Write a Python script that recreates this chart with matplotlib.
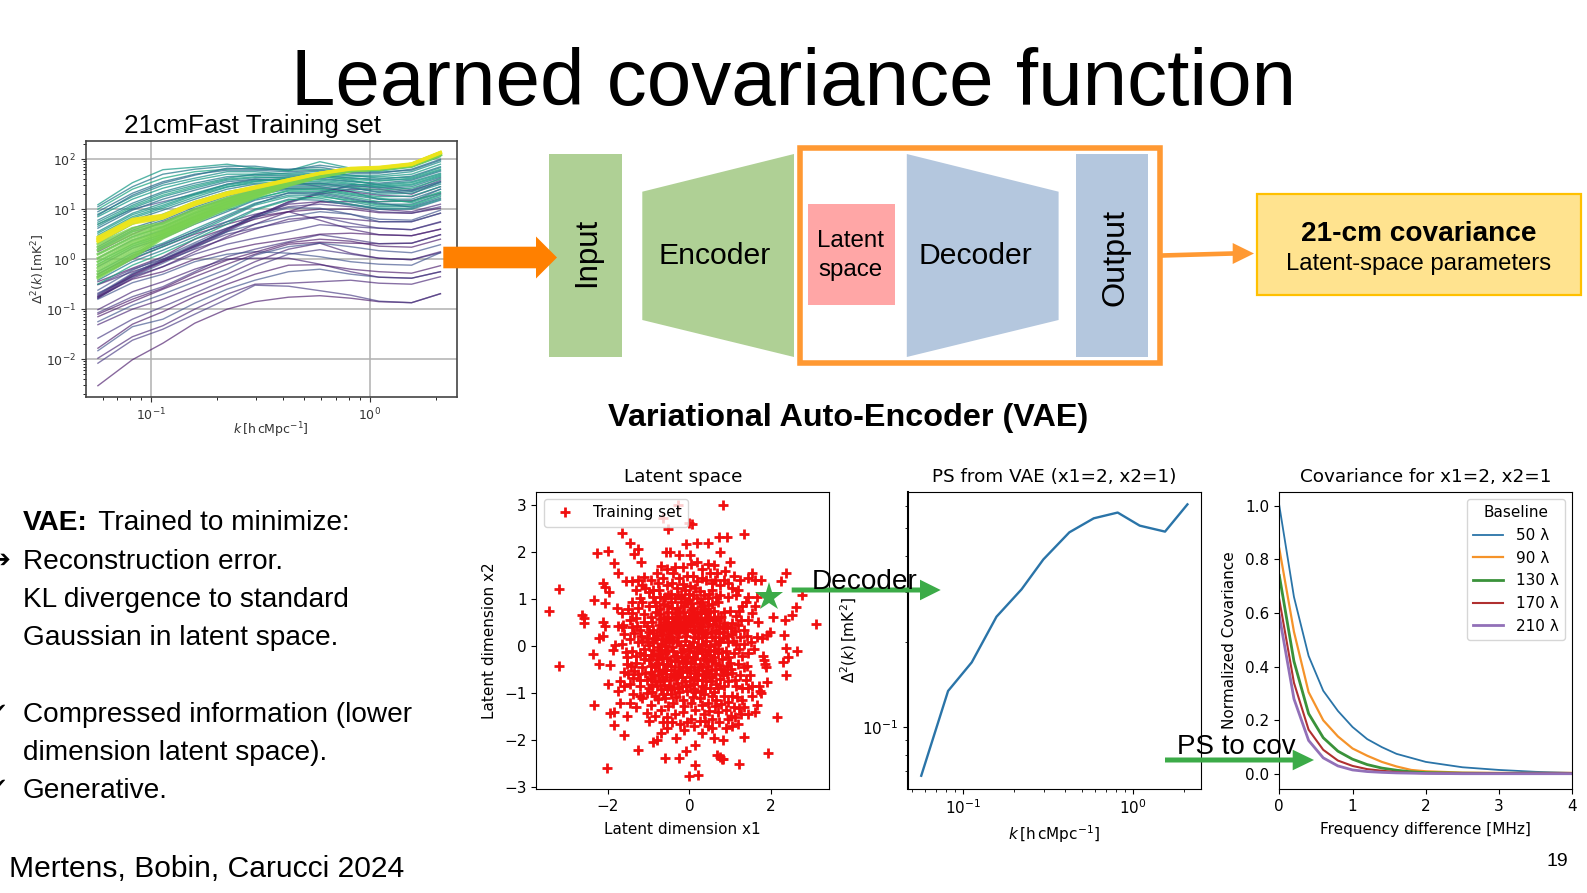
import numpy as np
import matplotlib
matplotlib.use('Agg')
import matplotlib.pyplot as plt
from matplotlib.patches import Polygon, Rectangle
from matplotlib.ticker import NullFormatter, LogLocator

W, H = 1587, 893
SLIDE_FONT = 'Liberation Sans'

# k grid shared by the power spectra
k_bins = [0.057, 0.082, 0.113, 0.158, 0.222, 0.298, 0.424, 0.59, 0.816, 1.10, 1.55, 2.10]

# training set curves, log10 of Delta^2(k)
purple_curves = [
    [-2.53, -2.01, -1.68, -1.28, -1.00, -.85, -.76, -.73, -.78, -.85, -.87, -.69],
    [-2.08, -1.62, -1.40, -1.10, -.80, -.52, -.54, -.63, -.72, -.84, -.87, -.69],
    [-1.98, -1.55, -1.33, -1.00, -.70, -.50, -.48, -.45, -.42, -.48, -.50, -.35],
    [-1.83, -1.35, -1.20, -.88, -.60, -.42, -.25, -.20, -.30, -.36, -.38, -.25],
    [-1.78, -1.30, -1.05, -.75, -.50, -.30, -.12, -.11, -.20, -.25, -.28, -.13],
    [-1.58, -1.20, -.95, -.68, -.40, -.15, .10, .19, .10, .02, -.01, .13],
    [-1.31, -1.00, -.80, -.55, -.30, -.05, .20, .32, .12, .02, -.01, .15],
    [-1.25, -.92, -.70, -.45, -.20, .08, .25, .32, .25, .17, .13, .29],
    [-1.15, -.85, -.60, -.35, -.10, .10, .30, .34, .32, .31, .32, .49],
    [-1.07, -.75, -.55, -.25, .05, .20, .35, .49, .40, .31, .32, .49],
    [-1.01, -.65, -.45, -.20, .00, .02, .02, -.10, -.25, -.36, -.38, -.25],
    [-.80, -.47, -.30, -.05, .10, .15, .12, .05, -.05, -.10, -.12, .13],
    [-.75, -.40, -.25, .00, .18, .30, .40, .50, .52, .49, .47, .60],
    [-.68, -.35, -.15, .10, .30, .42, .55, .69, .65, .62, .59, .74],
    [-.51, -.25, -.05, .20, .42, .60, .80, .85, .80, .75, .75, .92],
    [-.78, -.35, -.08, .22, .55, .82, 1.12, 1.32, 1.49, 1.49, 1.39, 1.62],
    [-.76, -.33, -.05, .25, .57, .85, 1.15, 1.30, 1.40, 1.40, 1.30, 1.55],
    [-.74, -.31, -.03, .27, .59, .87, 1.14, 1.34, 1.46, 1.44, 1.36, 1.58],
    [-.72, -.30, -.02, .28, .60, .88, 1.10, 1.15, 1.10, 1.00, .95, 1.10],
    [-.70, -.28, .00, .30, .55, .70, .85, .95, .90, .75, .75, .92],
    [-.45, -.18, .05, .40, .62, .80, .95, 1.15, 1.15, 1.15, 1.17, 1.32],
    [-.50, -.20, .00, .25, .50, .62, .75, .85, .72, .62, .59, .75],
    [-.78, -.38, -.15, .15, .45, .70, .95, .78, .60, .49, .47, .60],
    [.70, 1.00, 1.15, 1.30, 1.50, 1.60, 1.55, 1.45, 1.35, 1.20, 1.15, 1.40],
    [-.35, .00, .25, .50, .70, .85, .95, 1.00, 1.00, .93, .92, 1.02],
    [-.30, .05, .30, .55, .75, .90, 1.05, 1.10, 1.05, .95, .92, 1.05],
    [.15, .50, .75, 1.00, 1.20, 1.35, 1.42, 1.42, 1.35, 1.28, 1.25, 1.45],
    [-.62, -.22, .04, .33, .62, .85, 1.03, 1.02, .90, .80, .78, .98],
    [-1.10, -.80, -.58, -.28, -.02, .14, .33, .40, .36, .26, .24, .40],
]

teal_curves = [
    [1.09, 1.53, 1.79, 1.84, 1.90, 1.82, 1.77, 1.95, 1.82, 1.82, 1.92, 2.15],
    [1.05, 1.45, 1.70, 1.80, 1.86, 1.86, 1.78, 1.88, 1.80, 1.78, 1.88, 2.10],
    [1.00, 1.40, 1.62, 1.75, 1.80, 1.82, 1.78, 1.80, 1.76, 1.76, 1.84, 2.05],
    [.95, 1.32, 1.55, 1.70, 1.78, 1.78, 1.75, 1.78, 1.72, 1.72, 1.80, 2.00],
    [.90, 1.25, 1.48, 1.62, 1.75, 1.75, 1.70, 1.72, 1.68, 1.68, 1.75, 1.95],
    [.85, 1.20, 1.42, 1.58, 1.70, 1.70, 1.68, 1.70, 1.66, 1.65, 1.70, 1.90],
    [.78, 1.12, 1.35, 1.52, 1.65, 1.68, 1.66, 1.68, 1.62, 1.60, 1.66, 1.85],
    [.70, 1.05, 1.28, 1.45, 1.60, 1.65, 1.62, 1.65, 1.60, 1.56, 1.62, 1.80],
    [.62, .98, 1.20, 1.38, 1.55, 1.60, 1.60, 1.62, 1.56, 1.52, 1.58, 1.76],
    [.55, .92, 1.12, 1.32, 1.50, 1.58, 1.58, 1.60, 1.55, 1.50, 1.55, 1.72],
    [.48, .85, 1.05, 1.28, 1.45, 1.52, 1.55, 1.55, 1.50, 1.46, 1.50, 1.68],
    [.40, .78, .98, 1.20, 1.40, 1.50, 1.52, 1.52, 1.48, 1.42, 1.45, 1.64],
    [.32, .70, .90, 1.15, 1.35, 1.45, 1.50, 1.50, 1.45, 1.38, 1.42, 1.60],
    [.25, .62, .82, 1.08, 1.30, 1.42, 1.48, 1.48, 1.42, 1.35, 1.38, 1.55],
    [.18, .55, .72, 1.00, 1.22, 1.38, 1.45, 1.45, 1.38, 1.30, 1.32, 1.50],
    [.10, .45, .65, .92, 1.15, 1.32, 1.42, 1.42, 1.32, 1.25, 1.26, 1.45],
    [.02, .38, .58, .85, 1.10, 1.28, 1.40, 1.38, 1.28, 1.20, 1.20, 1.40],
    [-.05, .30, .50, .78, 1.02, 1.22, 1.36, 1.35, 1.25, 1.15, 1.16, 1.35],
    [-.15, .22, .42, .70, .95, 1.18, 1.32, 1.30, 1.20, 1.10, 1.10, 1.30],
    [-.25, .12, .32, .60, .88, 1.12, 1.28, 1.28, 1.15, 1.05, 1.06, 1.25],
    [-.35, .02, .25, .52, .82, 1.08, 1.25, 1.22, 1.10, 1.02, 1.02, 1.20],
    [-.42, -.05, .18, .45, .75, 1.00, 1.20, 1.18, 1.08, 1.00, 1.00, 1.18],
    [-.50, -.12, .12, .40, .70, .98, 1.18, 1.25, 1.18, 1.08, 1.08, 1.28],
    [.88, 1.28, 1.52, 1.68, 1.82, 1.80, 1.80, 1.84, 1.74, 1.74, 1.78, 1.98],
    [.66, 1.02, 1.25, 1.42, 1.58, 1.63, 1.64, 1.68, 1.63, 1.58, 1.60, 1.78],
    [.44, .82, 1.02, 1.24, 1.44, 1.55, 1.60, 1.58, 1.52, 1.44, 1.48, 1.66],
    [.21, .58, .78, 1.04, 1.26, 1.40, 1.50, 1.52, 1.44, 1.33, 1.35, 1.53],
    [-.10, .26, .46, .74, .98, 1.20, 1.38, 1.40, 1.30, 1.22, 1.13, 1.33],
    [-.30, .08, .28, .56, .85, 1.10, 1.33, 1.33, 1.22, 1.12, 1.04, 1.22],
    [.74, 1.08, 1.32, 1.48, 1.62, 1.70, 1.72, 1.76, 1.68, 1.62, 1.64, 1.83],
    [.52, .89, 1.08, 1.30, 1.48, 1.56, 1.62, 1.66, 1.58, 1.48, 1.53, 1.70],
]

green_curves = [
    [.30, .62, .72, 1.00, 1.22, 1.38, 1.55, 1.68, 1.78, 1.81, 1.88, 2.10],
    [.24, .56, .68, .96, 1.20, 1.36, 1.54, 1.67, 1.77, 1.80, 1.87, 2.09],
    [.18, .50, .64, .93, 1.18, 1.35, 1.53, 1.67, 1.78, 1.81, 1.87, 2.10],
    [.10, .44, .62, .90, 1.16, 1.34, 1.52, 1.67, 1.77, 1.80, 1.87, 2.09],
    [.02, .38, .58, .87, 1.14, 1.33, 1.52, 1.66, 1.77, 1.81, 1.88, 2.10],
    [-.05, .33, .56, .85, 1.12, 1.32, 1.51, 1.66, 1.77, 1.80, 1.87, 2.09],
    [-.12, .28, .54, .83, 1.10, 1.30, 1.50, 1.65, 1.77, 1.81, 1.87, 2.09],
    [-.18, .22, .52, .81, 1.09, 1.29, 1.50, 1.66, 1.77, 1.80, 1.87, 2.09],
    [-.24, .16, .49, .79, 1.07, 1.28, 1.49, 1.65, 1.77, 1.81, 1.87, 2.09],
    [-.30, .10, .47, .77, 1.06, 1.26, 1.49, 1.65, 1.77, 1.80, 1.87, 2.09],
    [-.35, .05, .45, .75, 1.05, 1.25, 1.49, 1.65, 1.77, 1.81, 1.87, 2.09],
    [-.38, .02, .42, .72, 1.02, 1.23, 1.47, 1.64, 1.76, 1.80, 1.86, 2.08],
]

yellow_curves = [
    [.35, .72, .82, 1.09, 1.29, 1.42, 1.57, 1.71, 1.80, 1.82, 1.89, 2.12],
    [.38, .75, .84, 1.11, 1.30, 1.43, 1.58, 1.72, 1.81, 1.83, 1.90, 2.13],
    [.41, .78, .86, 1.13, 1.32, 1.44, 1.59, 1.72, 1.81, 1.83, 1.90, 2.13],
    [.44, .80, .88, 1.14, 1.33, 1.45, 1.59, 1.72, 1.82, 1.84, 1.91, 2.14],
]

# latent space, training set positions
training_pts = [
    (-3.44, .74), (-3.19, 1.21), (-3.21, -.43), (-2.64, .67), (-2.58, .6), (-2.58, .5), (-2.34, .99), (-2.36, -.16),
    (-2.21, -.38), (-2.34, -1.25), (-2.27, 1.99), (-2.0, 2.03), (-2.01, -2.6), (-1.64, 2.42), (-1.46, 2.19), (-1.25, 2.06),
    (-1.36, 1.96), (-1.19, 1.8), (-1.84, 1.77), (-1.74, 1.55), (-2.13, 1.34), (-2.07, 1.27), (-1.96, 1.16), (-2.07, .91),
    (-1.77, .82), (-1.64, .7), (-2.11, .52), (-2.07, .42), (-2.21, .17), (-2.11, .21), (-1.95, -.4), (-1.99, -.81),
    (-1.82, .03), (-1.87, -.08), (-1.54, -.22), (-1.52, -.38), (-1.95, -1.43), (-1.85, -1.39), (-1.85, -1.67), (-1.6, -1.89),
    (-1.54, -1.48), (-1.27, -2.22), (-.9, -2.03), (-.6, -2.38), (-.25, -2.37), (-.08, -2.23), (.14, -2.1), (.14, -2.52),
    (0, -2.76), (.22, -2.74), (.67, -2.31), (.83, -2.4), (1.23, -2.51), (1.94, -2.28), (2.16, -1.51), (1.33, -1.94),
    (1.73, -.96), (1.9, -.77), (2.37, -.61), (2.31, -.33), (2.43, -.22), (2.65, -.11), (2.37, -.03), (2.32, .24),
    (3.11, .48), (2.35, .55), (2.51, .67), (2.63, .83), (2.76, 1.09), (2.25, 1.38), (2.37, 1.55), (2.06, .62),
    (1.98, .31), (1.9, .24), (1.33, 2.38), (.92, 2.33), (.74, 2.32), (.82, 3.0), (.06, 2.6), (-.02, 2.62),
    (-.27, 3.0), (-.52, 2.5), (-.65, 2.72), (-.07, 2.17), (.2, 2.19), (.47, 2.2), (.75, 2.01), (-.56, 2.01),
    (-.47, 2.01), (-.25, 1.94), (.02, 1.94), (1.0, 1.8), (.8, -2.4), (.75, -2.35), (1.84, -.3), (1.87, -.45),
    (1.8, -.2), (1.85, -.38), (1.65, .2), (1.78, .18), (1.62, .85), (1.65, 1.05), (1.45, 1.45), (1.55, 1.55),
    (1.6, 1.42), (1.75, 1.42), (1.45, 1.05), (1.4, .95), (1.3, .85), (1.55, .7), (1.68, .52), (1.45, .55),
    (1.7, -.85), (1.55, -.85), (1.45, -.9), (1.75, -1.0), (1.45, -1.45), (1.65, -1.25), (1.6, -1.4), (1.2, -1.65),
    (1.05, -1.7), (.9, -1.75), (.82, -2.0), (.6, -1.95), (.45, -1.7), (.3, -1.85), (.25, -1.6), (-.12, -1.78),
    (-.32, -1.95), (-.7, -1.85), (-.8, -2.0), (-.55, -1.75), (-1.0, -1.6), (-1.3, -1.3), (-1.45, -1.2), (-1.7, -1.2),
    (-1.75, -.95), (-1.7, -.75), (-1.6, -.85), (-1.45, -.8), (-1.5, -.6), (-1.25, -.6), (-1.2, -.85), (-1.15, -1.1),
    (-.95, -1.25), (-.85, -1.05), (-.7, -1.35), (-.55, -1.5), (-.35, -1.45), (-.15, -1.4), (.05, -1.55), (.15, -1.35),
    (.35, -1.45), (.55, -1.55), (.7, -1.4), (.9, -1.35), (1.1, -1.3), (1.3, -1.15), (1.3, -.9), (1.15, -.85),
    (1.05, -1.05), (.85, -1.05), (.65, -1.15), (.45, -1.2), (.25, -1.1), (.05, -1.2), (-.15, -1.15), (-.4, -1.2),
    (-.6, -1.1), (-.8, -.85), (-1.0, -.9), (-1.15, -.45), (-1.3, -.35), (-1.4, -.1), (-1.25, .1), (-1.45, .15),
    (-1.6, .25), (-1.4, .4), (-1.2, .35), (-1.3, .6), (-1.45, .55), (-1.75, .42), (-1.65, .4), (-1.4, .95),
    (-1.3, 1.2), (-1.4, 1.38), (-1.55, 1.38), (-1.1, 1.48), (-.95, 1.4), (-.8, 1.55), (-.7, 1.7), (-.55, 1.65),
    (-.4, 1.55), (-.25, 1.45), (-.05, 1.5), (.1, 1.5), (.3, 1.65), (.45, 1.75), (.6, 1.72), (.5, 1.55),
    (.75, 1.3), (.85, 1.4), (.95, 1.35), (1.1, 1.5), (1.2, 1.2), (1.15, 1.1), (.95, 1.05), (.7, .95),
    (.55, 1.2), (.35, 1.1), (.15, 1.25), (-.1, 1.2), (-.3, 1.25), (-.55, 1.3), (-.75, 1.2), (-1.0, 1.15),
    (-1.15, .95), (-1.0, .85), (-.85, .95), (-.65, .9), (-.45, .95), (-.2, .95), (.0, .98), (.25, .92),
    (.45, .88), (.6, .75), (.85, .72), (1.0, .75), (1.15, .65), (1.2, .45), (1.05, .5), (.85, .5),
    (.65, .55), (.45, .62), (.25, .7), (.05, .78), (-.15, .72), (-.35, .7), (-.55, .72), (-.75, .68),
    (-.95, .62), (-1.1, .68), (-1.05, .42), (-.9, .35), (-.75, .45), (-.55, .48), (-.35, .5), (-.15, .52),
    (.05, .55), (.25, .48), (.45, .42), (.65, .35), (.85, .3), (1.05, .25), (1.25, .2), (1.35, .05),
    (1.15, .05), (.95, .1), (.75, .12), (.55, .2), (.35, .25), (.15, .3), (-.05, .32), (-.25, .3),
    (-.45, .28), (-.65, .25), (-.85, .15), (-1.05, .18), (-1.1, -.05), (-.9, -.08), (-.7, .05), (-.5, .08),
    (-.3, .1), (-.1, .12), (.1, .1), (.3, .05), (.5, .0), (.7, -.05), (.9, -.1), (1.1, -.15),
    (1.3, -.2), (1.45, -.15), (1.2, -.38), (1.0, -.35), (.8, -.28), (.6, -.22), (.4, -.18), (.2, -.15),
    (.0, -.1), (-.2, -.12), (-.4, -.1), (-.6, -.15), (-.8, -.28), (-1.0, -.3), (-.95, -.55), (-.75, -.5),
    (-.55, -.38), (-.35, -.32), (-.15, -.35), (.05, -.35), (.25, -.38), (.45, -.42), (.65, -.48), (.85, -.52),
    (1.05, -.58), (1.25, -.62), (1.35, -.45), (.95, -.75), (.75, -.7), (.55, -.65), (.35, -.6), (.15, -.58),
    (-.05, -.55), (-.25, -.55), (-.45, -.6), (-.65, -.72), (-.85, -.75), (-1.05, -.72), (-.7, -.92), (-.5, -.85),
    (-.3, -.78), (-.1, -.75), (.1, -.8), (.3, -.85), (.5, -.88), (.7, -.9), (.55, -1.05), (.35, -1.02),
    (.15, -.98), (-.05, -.95), (-.25, -.98), (-.45, -1.02), (.4, 1.4), (.2, 1.38), (-.45, 1.12), (-.2, 1.1),
    (.75, 1.1), (-.65, 1.45), (-.9, 1.2), (.62, .05), (.28, .85), (-.82, -.38), (.42, -.75), (-.62, -.5),
    (-.18, -.22), (.28, .4), (.92, -.42), (-.42, .62), (.12, -.45), (-.32, -.65), (.72, .42), (-.72, .32),
]

# thick middle of the cloud
training_pts_core = [
    (-.98, .02), (-.88, .28), (-.78, -.02), (-.68, .15), (-.58, .38), (-.48, .18), (-.38, .4), (-.28, .2),
    (-.18, .42), (-.08, .22), (.02, .44), (.12, .2), (.22, .18), (.32, .35), (.42, .12), (.52, .3),
    (-.95, -.18), (-.85, -.45), (-.75, -.2), (-.65, -.38), (-.55, -.25), (-.45, -.42), (-.35, -.2), (-.25, -.44),
    (-.15, -.05), (-.05, -.22), (.05, -.02), (.15, -.28), (.25, -.05), (.35, -.25), (.45, -.08), (.55, -.32),
    (-.92, .52), (-.82, .72), (-.72, .58), (-.62, .62), (-.52, .6), (-.42, .82), (-.32, .62), (-.22, .62),
    (-.12, .85), (-.02, .65), (.08, .66), (.18, .58), (.28, .6), (.38, .75), (.48, .55), (.58, .48),
    (-.95, -.42), (-.88, -.62), (-.78, -.62), (-.68, -.58), (-.58, -.65), (-.48, -.72), (-.38, -.5), (-.28, -.62),
    (-.18, -.65), (-.08, -.45), (.02, -.65), (.12, -.7), (.22, -.5), (.32, -.72), (.42, -.55), (.52, -.75),
    (.62, -.35), (.72, -.4), (.82, -.62), (.92, -.6), (1.02, -.48), (1.12, -.72), (.65, -.8), (.85, -.85),
    (.62, .2), (.72, .28), (.82, .18), (.92, .22), (1.02, .38), (1.12, .32), (.78, .62), (.92, .42),
    (-1.18, .22), (-1.28, .42), (-1.35, .28), (-1.12, .52), (-1.22, -.15), (-1.32, -.2), (-1.12, -.28), (-1.2, -.72),
    (-1.05, -1.0), (-.92, -.98), (-.78, -1.12), (-.65, -1.02), (-.52, -1.28), (-.32, -1.08), (-.12, -1.28), (.1, -1.08),
    (.32, -1.25), (.48, -1.38), (.62, -1.28), (.78, -1.22), (.95, -1.18), (1.18, -1.08), (1.22, -1.32), (1.02, -1.48),
    (-1.2, 1.02), (-1.08, 1.25), (-.9, 1.05), (-.78, 1.35), (-.6, 1.05), (-.42, 1.35), (-.12, 1.02), (.08, 1.08),
    (.25, 1.18), (.45, 1.02), (.62, 1.42), (.65, 1.05), (-.15, 1.32), (.02, 1.28), (.3, 1.45), (.55, 1.35),
    (-.35, 1.68), (-.15, 1.68), (.05, 1.75), (.2, 1.8), (.68, 1.55), (.88, 1.6), (1.05, 1.25), (1.25, 1.4),
    (-.7, -.08), (-.6, .0), (-.42, -.02), (-.22, .02), (-.02, .02), (.18, -.02), (.38, .02), (.6, -.1),
    (-.5, .22), (-.32, .32), (-.12, .35), (.08, .35), (.22, .3), (.4, .28), (-.58, .12), (-.4, .14),
    (-.55, -.08), (-.3, -.22), (-.1, -.25), (.1, -.22), (.3, -.12), (.5, -.18), (-.75, -.15), (.7, -.15),
    (-.62, .42), (-.42, .42), (-.25, .45), (-.05, .45), (.12, .42), (.32, .52), (-.52, .85), (-.3, .82),
    (-.1, .62), (.1, .82), (.35, .8), (.55, .9), (-.28, -.88), (-.08, -.85), (.12, -.92), (.28, -.95),
    (-.45, -.92), (-.62, -.82), (-1.35, -.52), (-1.42, -.42), (-1.55, -.12), (-1.65, .05), (-1.6, -.55), (-1.38, -.68),
    (-1.5, .8), (-1.62, .45), (-1.25, .82), (-1.4, .7), (-1.15, 1.3), (-1.25, 1.42), (1.28, .55), (1.35, .35),
    (1.22, .75), (1.42, .22), (1.52, .08), (1.58, -.05), (1.42, -.42), (1.5, -.62), (1.38, -.72), (1.55, -1.05),
    (1.35, -1.3), (1.28, -1.45), (1.12, -1.5), (.95, -1.55), (.72, -1.62), (.55, -1.75), (.38, -1.6), (.12, -1.7),
    (-.05, -1.62), (-.22, -1.65), (-.42, -1.62), (-.65, -1.62), (-.85, -1.48), (-1.05, -1.42), (-1.22, -1.05), (-1.38, -1.02),
    (-.9, .08), (-.8, .22), (-.7, .38), (-.6, .52), (-.5, .34), (-.4, .52), (-.3, .58), (-.2, .36),
    (-.1, .5), (.0, .6), (.1, .52), (.2, .72), (.3, .2), (.4, .55), (.5, .72), (.6, .6),
    (-.88, -.18), (-.78, -.36), (-.68, -.25), (-.58, -.5), (-.48, -.3), (-.38, -.62), (-.28, -.32), (-.18, -.5),
    (-.08, -.32), (.02, -.5), (.12, -.12), (.22, -.62), (.32, -.45), (.42, -.3), (.52, -.5), (.62, -.6),
    (-.82, .85), (-.72, .8), (-.62, 1.02), (-.52, 1.1), (-.35, 1.02), (-.25, .75), (-.05, .92), (.05, .92),
    (.18, 1.02), (.32, .95), (.42, .7), (.48, 1.12), (.12, .62), (-.02, 1.12), (-.28, 1.1), (-.72, 1.05),
    (-.72, -.75), (-.55, -.92), (-.38, -.88), (-.18, -.85), (.02, -.82), (.2, -.72), (.38, -.88), (.6, -.98),
    (.48, -.65), (-.92, -.82), (-.95, -.68), (-1.08, -.58), (-1.08, -.18), (-1.02, .08), (-.98, .3), (-1.15, .12),
    (.72, .08), (.8, -.12), (.82, .38), (.7, .62), (.95, -.22), (.78, -.48), (1.08, .12), (1.22, -.05),
]

# power spectrum decoded at x1=2, x2=1
vae_ps = [0.0674, 0.134, 0.169, 0.2446, 0.3055, 0.389, 0.4847, 0.543, 0.569, 0.5117, 0.4875, 0.608]

# covariance curves per baseline
freq_diff = [0, 0.2, 0.4, 0.6, 0.8, 1.0, 1.2, 1.4, 1.6, 1.8, 2.0, 2.5, 3.0, 3.5, 4.0]
baseline_labels = ['50 λ', '90 λ', '130 λ', '170 λ', '210 λ']
cov_50 = [1.0, .66, .44, .31, .235, .175, .13, .10, .075, .06, .045, .025, .015, .008, .004]
cov_90 = [.84, .53, .305, .20, .14, .095, .068, .045, .028, .015, .01, .005, .004, .004, .004]
cov_130 = [.74, .42, .225, .135, .085, .055, .035, .022, .014, .008, .005, .003, .002, .002, .002]
cov_170 = [.65, .34, .165, .09, .05, .03, .018, .012, .007, .004, .003, .002, .002, .002, .002]
cov_210 = [.59, .28, .125, .06, .03, .015, .009, .006, .004, .003, .002, .001, .001, .001, .001]

fig = plt.figure(figsize=(W / 100, H / 100), dpi=100)


def px_axes(left, top, right, bottom):
    return fig.add_axes([left / W, 1 - bottom / H, (right - left) / W, (bottom - top) / H])


# training set panel
ax1 = px_axes(85.7, 140.7, 457, 396.7)
purple_shades = [0.06, 0.16, 0.1, 0.24]
for i, curve in enumerate(purple_curves):
    ax1.plot(k_bins, 10 ** np.array(curve), color=plt.cm.viridis(purple_shades[i % 4]), alpha=0.65, lw=1.0)
teal_shades = [0.55, 0.42, 0.6, 0.38, 0.5]
for i, curve in enumerate(teal_curves):
    ax1.plot(k_bins, 10 ** np.array(curve), color=plt.cm.viridis(teal_shades[i % 5]), alpha=0.75, lw=1.0)
for curve in green_curves:
    ax1.plot(k_bins, 10 ** np.array(curve), color=plt.cm.viridis(0.8), alpha=0.8, lw=2.0)
for curve in yellow_curves:
    ax1.plot(k_bins, 10 ** np.array(curve), color=plt.cm.viridis(0.97), alpha=0.9, lw=2.2)
ax1.set_xscale('log')
ax1.set_yscale('log')
ax1.set_xlim(10 ** -1.3, 10 ** 0.398)
ax1.set_ylim(10 ** -2.75, 10 ** 2.37)
ax1.grid(True, which='major', color='#b0b0b0', lw=1.1)
ax1.yaxis.set_major_locator(LogLocator(base=10, numticks=10))
ax1.yaxis.set_minor_locator(LogLocator(base=10, subs=np.arange(2, 10), numticks=10))
ax1.yaxis.set_minor_formatter(NullFormatter())
ax1.xaxis.set_minor_formatter(NullFormatter())
ax1.tick_params(labelsize=9, colors='#333333')
ax1.set_xlabel(r'$k\,[\mathrm{h\,cMpc^{-1}}]$', fontsize=9, color='#333333', labelpad=-2)
ax1.set_ylabel(r'$\Delta^2(k)\,[\mathrm{mK^2}]$', fontsize=9, color='#333333', labelpad=-1)
for spine in ax1.spines.values():
    spine.set_color('#444444')
    spine.set_linewidth(1.2)

# latent space panel
ax2 = px_axes(536.3, 491.7, 829.3, 789)
pts = np.array(training_pts + training_pts_core)
ax2.plot(pts[:, 0], pts[:, 1], '+', color='#f01010', ms=7, mew=2.0, label='Training set', zorder=2)
ax2.plot([1.95], [1.05], '*', color='#3CAB48', ms=21, mew=0, zorder=3)
ax2.set_xlim(-3.755, 3.435)
ax2.set_ylim(-3.04, 3.29)
ax2.set_xticks([-2, 0, 2])
ax2.set_yticks([-3, -2, -1, 0, 1, 2, 3])
ax2.tick_params(labelsize=11)
ax2.set_xlabel('Latent dimension x1', fontsize=11, labelpad=6)
ax2.set_ylabel('Latent dimension x2', fontsize=11, labelpad=5)
ax2.set_title('Latent space', fontsize=13.2, pad=7)
ax2.legend(loc='upper left', fontsize=11, handlelength=2.0, handletextpad=0.8)

# decoded spectrum panel
ax3 = px_axes(908, 491.7, 1201, 789)
ax3.plot(k_bins, vae_ps, color='#2a74a8', lw=1.7)
ax3.set_xscale('log')
ax3.set_yscale('log')
ax3.set_xlim(10 ** -1.322, 10 ** 0.402)
ax3.set_ylim(10 ** -1.218, 10 ** -0.1715)
ax3.yaxis.set_minor_formatter(NullFormatter())
ax3.xaxis.set_minor_formatter(NullFormatter())
ax3.tick_params(labelsize=11)
ax3.set_xlabel(r'$k\,[\mathrm{h\,cMpc^{-1}}]$', fontsize=11)
ax3.set_ylabel(r'$\Delta^2(k)\,[\mathrm{mK^2}]$', fontsize=11, labelpad=2)
ax3.set_title('PS from VAE (x1=2, x2=1)', fontsize=13.2, pad=7)
ax3.spines['left'].set_linewidth(1.5)

# covariance panel
ax4 = px_axes(1279.3, 491.7, 1572.3, 789)
cov_curves = [cov_50, cov_90, cov_130, cov_170, cov_210]
cov_colors = ['#2a74a8', '#f5932a', '#3a923a', '#b03030', '#9270b8']
cov_widths = [1.3, 1.6, 2.0, 1.5, 2.0]
for curve, label, color, width in zip(cov_curves, baseline_labels, cov_colors, cov_widths):
    ax4.plot(freq_diff, curve, color=color, lw=width, label=label)
ax4.set_xlim(0, 4)
ax4.set_ylim(-0.056, 1.052)
ax4.set_xticks([0, 1, 2, 3, 4])
ax4.set_yticks([0, 0.2, 0.4, 0.6, 0.8, 1.0])
ax4.tick_params(labelsize=11)
ax4.set_xlabel('Frequency difference [MHz]', fontsize=11, labelpad=6)
ax4.set_ylabel('Normalized Covariance', fontsize=11, labelpad=6)
ax4.set_title('Covariance for x1=2, x2=1', fontsize=13.2, pad=7)
ax4.legend(title='Baseline', loc='upper right', fontsize=11, title_fontsize=11, labelspacing=0.5)

# slide layer in pixel coordinates, on top of the panels
slide = fig.add_axes([0, 0, 1, 1], zorder=10)
slide.set_xlim(0, W)
slide.set_ylim(H, 0)
slide.axis('off')
slide.patch.set_alpha(0)


def stext(x, y, s, size, **kw):
    kw.setdefault('family', SLIDE_FONT)
    kw.setdefault('color', 'black')
    slide.text(x, y, s, fontsize=size, **kw)


def poly(points, color):
    slide.add_patch(Polygon(points, closed=True, facecolor=color, edgecolor='none'))


def rect(x0, y0, x1, y1, color):
    slide.add_patch(Rectangle((x0, y0), x1 - x0, y1 - y0, facecolor=color, edgecolor='none'))


def arrow(x0, y0, base, tip, y_tip, half_head, half_shaft, color):
    poly([(x0, y0 - half_shaft), (base, y_tip - half_shaft), (base, y_tip - half_head), (tip, y_tip),
          (base, y_tip + half_head), (base, y_tip + half_shaft), (x0, y0 + half_shaft)], color)


stext(794, 105.5, 'Learned covariance function', 57.6, ha='center', va='baseline')
stext(253, 132.7, '21cmFast Training set', 18.8, ha='center', va='baseline')

GREEN_BOX = '#AFD095'
BLUE_BOX = '#B4C7DE'
rect(549, 154, 621.5, 357, GREEN_BOX)
poly([(642.3, 191.7), (794, 154), (794, 357), (642.3, 320)], GREEN_BOX)
rect(808, 204, 895, 305, '#FFA6A6')
poly([(906.8, 154), (1058.6, 191.7), (1058.6, 320), (906.8, 357)], BLUE_BOX)
rect(1076.4, 154, 1148.4, 357, BLUE_BOX)
slide.add_patch(Rectangle((800, 148), 360, 215, fill=False, edgecolor='#FF9933', lw=4))

arrow(443.3, 257.5, 536, 557, 257.5, 21, 10.8, '#FF8000')
arrow(1162, 255.5, 1232.7, 1254, 253.5, 10.5, 2.3, '#FF9933')

stext(587, 252, 'Input', 22.5, rotation=90, ha='center', va='center')
stext(715, 256, 'Encoder', 21.7, ha='center', va='center')
stext(850.5, 241, 'Latent', 17.4, ha='center', va='center')
stext(850.5, 270, 'space', 17.4, ha='center', va='center')
stext(975, 256, 'Decoder', 21.7, ha='center', va='center')
stext(1115, 257, 'Output', 23.3, rotation=90, ha='center', va='center')
stext(848, 418, 'Variational Auto-Encoder (VAE)', 23.3, ha='center', va='center', weight='bold')

slide.add_patch(Rectangle((1256.5, 193.5), 324.5, 101, facecolor='#FFE38F', edgecolor='#FFC000', lw=1.6))
stext(1419, 233.7, '21-cm covariance', 20.2, ha='center', va='center', weight='bold')
stext(1419, 263.7, 'Latent-space parameters', 17.2, ha='center', va='center')

stext(23, 530, 'VAE:', 20.2, weight='bold', va='baseline')
stext(91, 530, ' Trained to minimize:', 20.2, va='baseline')
stext(23, 569, 'Reconstruction error.', 20.2, va='baseline')
stext(23, 607, 'KL divergence to standard', 20.2, va='baseline')
stext(23, 645, 'Gaussian in latent space.', 20.2, va='baseline')
stext(23, 722, 'Compressed information (lower', 20.2, va='baseline')
stext(23, 760, 'dimension latent space).', 20.2, va='baseline')
stext(23, 798, 'Generative.', 20.2, va='baseline')
stext(9, 877, 'Mertens, Bobin, Carucci 2024', 21.6, va='baseline')
stext(1546, 866, '19', 14, va='baseline')

# bullets cut by the slide edge
stext(-9, 560, '➔', 17, family='DejaVu Sans', weight='bold', va='center')
stext(-9, 711.7, '✔', 14, family='DejaVu Sans', va='center')
stext(-9, 786.7, '✔', 14, family='DejaVu Sans', va='center')

arrow(791.7, 590, 920, 940.7, 590, 10.3, 2.5, '#3CAB48')
arrow(1165, 760, 1292.7, 1314, 760, 10.3, 2.5, '#3CAB48')
stext(917, 589, 'Decoder', 20.2, ha='right', va='baseline')
stext(1296, 753.5, 'PS to cov', 20, ha='right', va='baseline')

fig.savefig('out.png', dpi=100)
